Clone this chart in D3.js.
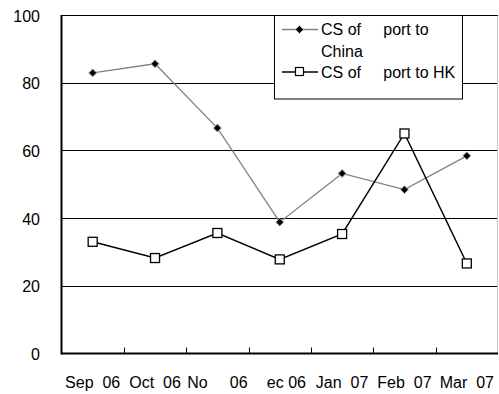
<!DOCTYPE html>
<html><head><meta charset="utf-8">
<script src="https://cdn.jsdelivr.net/npm/d3@7"></script>
<style>body{margin:0;background:#fff}svg{display:block}text{font-family:"Liberation Sans",Arial,sans-serif;fill:#000;white-space:pre}</style>
</head><body>
<script>
const categories = ["Sep  06","Oct  06","No     06","   ec 06","Jan  07","Feb  07","Mar  07"];
const chinaValues = [82.9, 85.6, 66.6, 38.8, 53.2, 48.4, 58.4];
const hkValues = [33.0, 28.2, 35.6, 27.8, 35.3, 65.0, 26.6];
const yTicks = [0, 20, 40, 60, 80, 100];
const seriesNames = [["CS of     port to", "China"], ["CS of     port to HK"]];

const W = 499, H = 394;
const m = {left: 61.5, right: 498, top: 15, bottom: 353.5};
const svg = d3.select("body").append("svg").attr("width", W).attr("height", H);

const x = d3.scaleBand().domain(categories).range([m.left, m.right]).padding(0);
const y = d3.scaleLinear().domain([0, 100]).range([m.bottom, m.top]);

// gridlines
svg.append("g").selectAll("line").data(yTicks.filter(d => d > 0)).join("line")
  .attr("x1", m.left).attr("x2", m.right)
  .attr("y1", d => Math.round(y(d)) + 0.5).attr("y2", d => Math.round(y(d)) + 0.5)
  .attr("stroke", "#000").attr("stroke-width", 1);
// right border
svg.append("line").attr("x1", 497.5).attr("x2", 497.5).attr("y1", m.top).attr("y2", m.bottom)
  .attr("stroke", "#c8c8c8");

// y axis labels
svg.append("g").selectAll("text").data(yTicks).join("text")
  .attr("x", 40).attr("y", d => y(d) + 6.5).attr("text-anchor", "end")
  .attr("font-size", 16).text(d => d);

// x axis
const xAxis = d3.axisBottom(x).tickSize(0).tickFormat(d => d);
const gx = svg.append("g").attr("transform", `translate(0,${m.bottom})`).call(xAxis);
gx.select(".domain").remove();
gx.selectAll("text").attr("font-size", 16).attr("dy", 0).attr("y", 34.5)
  .style("font-family", '"Liberation Sans",Arial,sans-serif').style("white-space", "pre");
// tick marks at category boundaries
const bounds = categories.slice(1).map(c => x(c));
svg.append("g").selectAll("line").data(bounds).join("line")
  .attr("x1", d => Math.round(d) + 0.5).attr("x2", d => Math.round(d) + 0.5)
  .attr("y1", m.bottom - 6).attr("y2", m.bottom).attr("stroke", "#000");

// axis lines
svg.append("line").attr("x1", m.left).attr("x2", m.left).attr("y1", m.top).attr("y2", m.bottom + 1)
  .attr("stroke", "#000").attr("stroke-width", 2);
svg.append("line").attr("x1", m.left).attr("x2", m.right).attr("y1", m.bottom).attr("y2", m.bottom)
  .attr("stroke", "#000").attr("stroke-width", 2);

const cx = d => x(d) + x.bandwidth() / 2;
const line = d3.line().x(d => cx(d[0])).y(d => y(d[1]));

// China series
const chinaData = categories.map((c, i) => [c, chinaValues[i]]);
svg.append("path").attr("d", line(chinaData)).attr("fill", "none").attr("stroke", "#808080").attr("stroke-width", 1.3);
const diamond = d3.symbol().type(d3.symbolDiamond2).size(40);
svg.append("g").selectAll("path").data(chinaData).join("path")
  .attr("transform", d => `translate(${cx(d[0])},${y(d[1])})`)
  .attr("d", diamond).attr("fill", "#000").attr("stroke", "#aaa").attr("stroke-width", 1);

// HK series
const hkData = categories.map((c, i) => [c, hkValues[i]]);
svg.append("path").attr("d", line(hkData)).attr("fill", "none").attr("stroke", "#000").attr("stroke-width", 1.5);
svg.append("g").selectAll("rect").data(hkData).join("rect")
  .attr("x", d => cx(d[0]) - 4.5).attr("y", d => y(d[1]) - 4.5)
  .attr("width", 9).attr("height", 9).attr("fill", "#fff").attr("stroke", "#000").attr("stroke-width", 1.3);

// top border
svg.append("line").attr("x1", m.left).attr("x2", m.right).attr("y1", 15.5).attr("y2", 15.5).attr("stroke", "#000");

// legend
const lg = svg.append("g");
lg.append("rect").attr("x", 274.5).attr("y", 15.5).attr("width", 188).attr("height", 83.5)
  .attr("fill", "#fff").attr("stroke", "#000");
lg.append("line").attr("x1", 282).attr("x2", 318).attr("y1", 29.5).attr("y2", 29.5).attr("stroke", "#808080").attr("stroke-width", 1.3);
lg.append("path").attr("transform", "translate(299.5,29.5)").attr("d", diamond).attr("fill", "#000").attr("stroke", "#aaa");
lg.append("line").attr("x1", 282).attr("x2", 318).attr("y1", 72).attr("y2", 72).attr("stroke", "#000").attr("stroke-width", 1.5);
lg.append("rect").attr("x", 295.5).attr("y", 67.5).attr("width", 8).attr("height", 8).attr("fill", "#fff").attr("stroke", "#000").attr("stroke-width", 1.2);
const t1 = lg.append("text").attr("x", 321).attr("y", 35).attr("font-size", 16);
t1.append("tspan").attr("x", 321).text(seriesNames[0][0]);
t1.append("tspan").attr("x", 321).attr("dy", 21.5).text(seriesNames[0][1]);
lg.append("text").attr("x", 321).attr("y", 78).attr("font-size", 16).text(seriesNames[1][0]);
</script>
</body></html>
